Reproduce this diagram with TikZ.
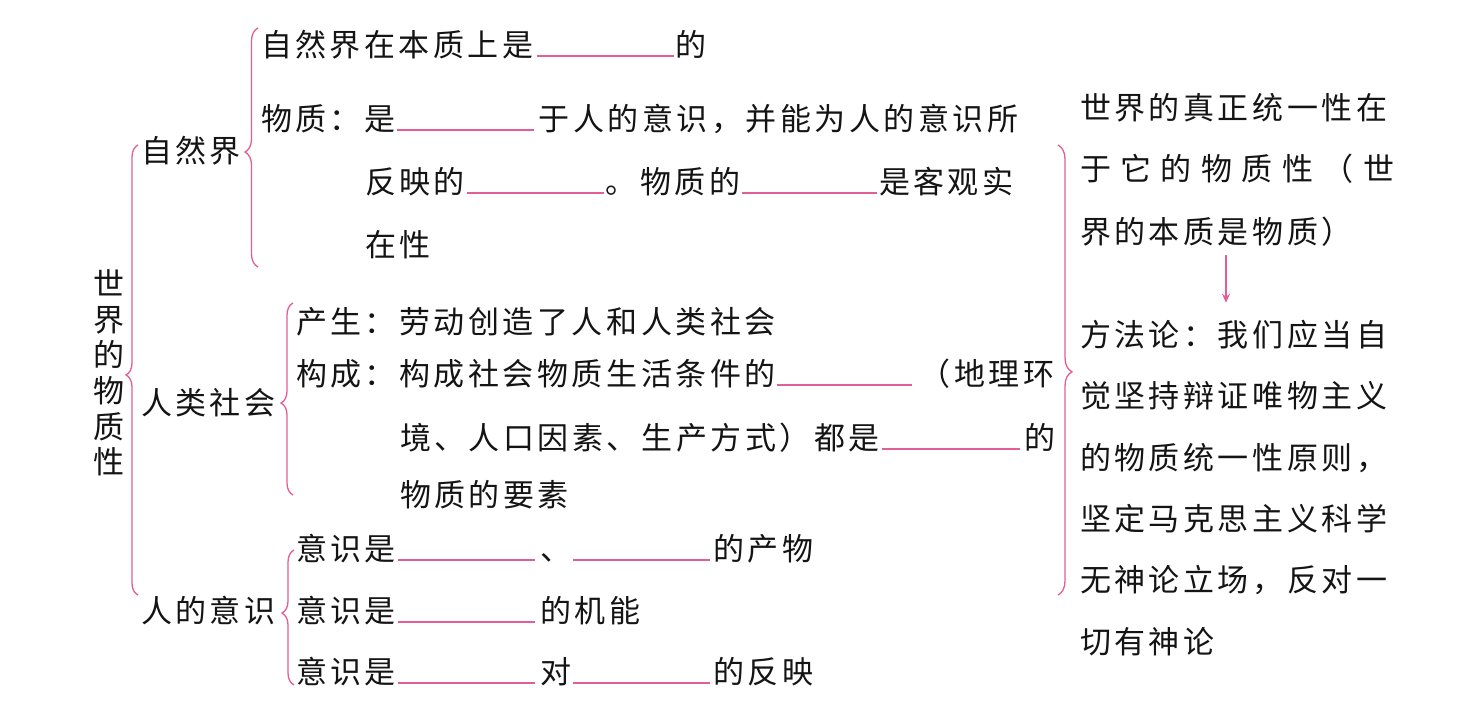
\documentclass[tikz,border=0pt]{standalone}
\usepackage{fontspec}
\newfontfamily\cjk{Noto Sans CJK SC}[LetterSpace=11.3]
\usetikzlibrary{decorations.pathreplacing,arrows.meta,calc}
\definecolor{pk}{RGB}{225,95,150}
\definecolor{inkc}{RGB}{20,20,20}
\newcommand\bl[3]{\hspace*{#1pt}{\color{pk}\rule[-1pt]{#2pt}{1.6pt}}\hspace*{#3pt}}
\begin{document}
\begin{tikzpicture}[x=1pt,y=-1pt,
  txt/.style={anchor=base west, inner sep=0pt, outer sep=0pt, font=\cjk\fontsize{31}{34}\selectfont, text=inkc},
  ttl/.style={anchor=center, inner sep=0pt, outer sep=0pt, align=center, font=\cjk\fontsize{31}{35.6}\selectfont, text=inkc},
  brc/.style={draw=pk, line width=1.3pt, decorate},
  arr/.style={draw=pk, line width=1.2pt, -{Stealth[length=9pt,width=8pt]}}]
\useasboundingbox (0,0) rectangle (1471,726);
\fill[white] (0,0) rectangle (1471,726);

% title
\node[ttl] (t) at (109,373) {世\\界\\的\\物\\质\\性};

% level 1 labels
\node[txt] (zr) at (141,162) {自然界};
\node[txt] (rl) at (141,414) {人类社会};
\node[txt] (yl) at (141,622) {人的意识};

% nature
\node[txt] (n1) at (261,56) {自然界在本质上是\bl{3}{137}{2}的};
\node[txt] (n2) at (261,130) {物质：是\bl{1}{137}{5}于人的意识，并能为人的意识所};
\node[txt] (n3) at (365,193) {反映的\bl{1.5}{137}{2}。物质的\bl{2}{135}{2}是客观实};
\node[txt] (n4) at (365,256) {在性};

% society
\node[txt] (s1) at (296,333) {产生：劳动创造了人和人类社会};
\node[txt] (s2) at (296,385) {构成：构成社会物质生活条件的\bl{1}{135}{8}（地理环};
\node[txt] (s3) at (400,449) {境、人口因素、生产方式）都是\bl{2}{138}{5}的};
\node[txt] (s4) at (400,506) {物质的要素};

% consciousness
\node[txt] (c1) at (296,560) {意识是\bl{2}{137}{5}、\bl{2}{137}{3}的产物};
\node[txt] (c2) at (296,622) {意识是\bl{2}{137}{5}的机能};
\node[txt] (c3) at (296,683) {意识是\bl{2}{137}{5}对\bl{2}{137}{3}的反映};

% right column
\node[txt] (r1) at (1080,119) {世界的真正统一性在};
\node[txt] (r2) at (1080,180) {\makebox[314pt][s]{于\hfil 它\hfil 的\hfil 物\hfil 质\hfil 性\hfil （\hfil 世}};
\node[txt] (r3) at (1080,243) {界的本质是物质）};
\node[txt] (r4) at (1080,346) {方法论：我们应当自};
\node[txt] (r5) at (1080,407.5) {觉坚持辩证唯物主义};
\node[txt] (r6) at (1080,469) {的物质统一性原则，};
\node[txt] (r7) at (1080,530) {坚定马克思主义科学};
\node[txt] (r8) at (1080,591.5) {无神论立场，反对一};
\node[txt] (r9) at (1080,653) {切有神论};

% arrow
\coordinate (ax) at (1226,0);
\draw[arr] ($(r3.base -| ax)+(0,12)$) -- ($(r4.north -| ax)+(0,-17)$);

% braces
\draw[brc, decoration={brace, amplitude=12pt, aspect=0.489}] (138,595) -- (138,145);
\draw[brc, decoration={brace, amplitude=13pt, aspect=0.481}] (258,267) -- (258,28);
\draw[brc, decoration={brace, amplitude=12pt, aspect=0.479}] (293,495) -- (293,303);
\draw[brc, decoration={brace, amplitude=12pt, aspect=0.533}] (294,685) -- (294,550);
\draw[brc, decoration={brace, amplitude=14pt, aspect=0.504}] (1058,145) -- (1058,595);
\end{tikzpicture}
\end{document}
